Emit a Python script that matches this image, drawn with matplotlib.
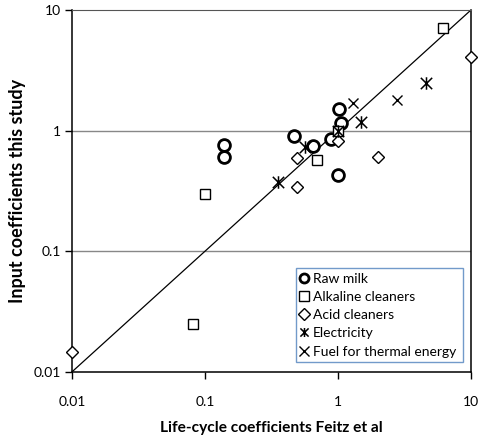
import matplotlib.pyplot as plt
from matplotlib.path import Path

# Data (log-log axes)
milk_x = [0.14, 0.14, 0.47, 0.65, 0.88, 1.02, 1.05, 1.0]
milk_y = [0.76, 0.60, 0.90, 0.74, 0.85, 1.51, 1.16, 0.43]

alk_x = [0.1, 0.7, 0.081, 6.2, 1.0]
alk_y = [0.30, 0.57, 0.025, 7.1, 1.0]

acid_x = [0.01, 10.0, 0.49, 0.49, 1.0, 2.0]
acid_y = [0.0147, 4.05, 0.59, 0.34, 0.82, 0.60]

elec_x = [0.355, 0.565, 1.5, 4.6, 1.0]
elec_y = [0.375, 0.73, 1.18, 2.48, 1.0]

fuel_x = [1.3, 2.78]
fuel_y = [1.69, 1.79]

line_x = [0.01, 10]
line_y = [0.01, 10]

ticks = [0.01, 0.1, 1, 10]
tick_labels = ['0.01', '0.1', '1', '10']

plt.rcParams['font.family'] = ['Lato', 'DejaVu Sans']

# Excel style star: an x with a vertical bar
star = Path([(-1, -1), (1, 1), (-1, 1), (1, -1), (0, -1.1), (0, 1.1)],
            [Path.MOVETO, Path.LINETO, Path.MOVETO, Path.LINETO, Path.MOVETO, Path.LINETO])

fig = plt.figure(figsize=(4.86, 4.36), dpi=100)
ax = fig.add_axes([0.148, 0.147, 0.821, 0.830])

ax.set_xscale('log')
ax.set_yscale('log')
ax.set_xlim(0.01, 10)
ax.set_ylim(0.01, 10)

for gy in [0.1, 1]:
    ax.axhline(gy, color='#888888', linewidth=1, zorder=1)

ax.plot(line_x, line_y, color='black', linewidth=0.9, zorder=2)

ax.plot(milk_x, milk_y, 'o', ms=8.5, mfc='white', mec='black', mew=2,
        linestyle='none', label='Raw milk', zorder=3, clip_on=False)
ax.plot(alk_x, alk_y, 's', ms=7.5, mfc='white', mec='black', mew=1,
        linestyle='none', label='Alkaline cleaners', zorder=3, clip_on=False)
ax.plot(acid_x, acid_y, 'D', ms=6.5, mfc='white', mec='black', mew=1,
        linestyle='none', label='Acid cleaners', zorder=3, clip_on=False)
ax.plot(elec_x, elec_y, marker=star, ms=9, mfc='none', mec='black', mew=1.1,
        linestyle='none', label='Electricity', zorder=4, clip_on=False)
ax.plot(fuel_x, fuel_y, 'x', ms=7, mec='black', mew=1,
        linestyle='none', label='Fuel for thermal energy', zorder=4, clip_on=False)

ax.set_xticks(ticks)
ax.set_xticklabels(tick_labels)
ax.set_yticks(ticks)
ax.set_yticklabels(tick_labels)
ax.minorticks_off()
ax.tick_params(axis='both', direction='out', length=5, width=1, labelsize=10, pad=12)
ax.tick_params(axis='y', pad=3)

ax.spines['top'].set_color('#555555')
for s in ['left', 'bottom', 'right']:
    ax.spines[s].set_color('black')
    ax.spines[s].set_linewidth(1.1)

ax.set_xlabel('Life-cycle coefficients Feitz et al', fontsize=11.2, fontweight='bold', labelpad=10)
ax.set_ylabel('Input coefficients this study', fontsize=13, fontweight='bold', labelpad=5)

leg = ax.legend(loc='lower left', bbox_to_anchor=(0.561, 0.028, 0.419, 0.281), mode='expand',
                fontsize=10, frameon=True, fancybox=False, handlelength=0.6,
                handletextpad=0.35, borderpad=0.3, labelspacing=0.45, borderaxespad=0)
leg.get_frame().set_edgecolor('#4F81BD')
leg.get_frame().set_linewidth(1)
for h in leg.legend_handles:
    h.set_markersize(6.5)

fig.savefig('out.png', dpi=100)
